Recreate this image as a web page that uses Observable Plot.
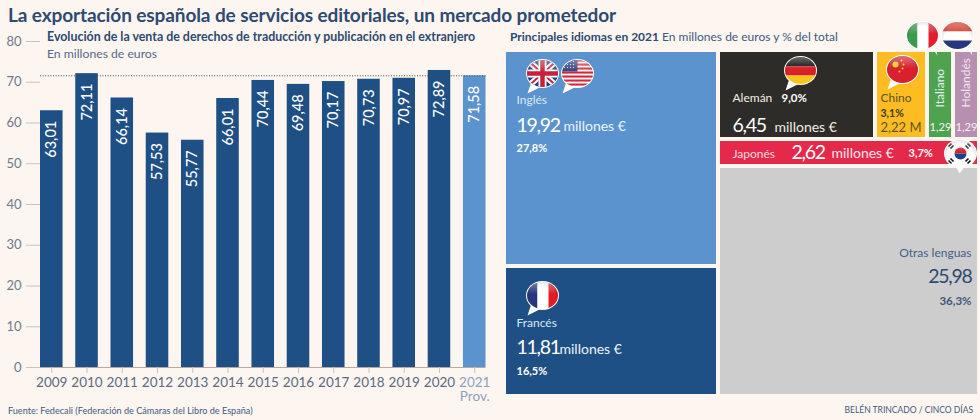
<!DOCTYPE html>
<html lang="es">
<head>
<meta charset="utf-8">
<script src="https://cdn.jsdelivr.net/npm/d3@7"></script>
<script src="https://cdn.jsdelivr.net/npm/@observablehq/plot@0.6"></script>
<style>
  html,body{margin:0;padding:0;background:#fdf5ef;}
  #page{position:relative;width:980px;height:420px;overflow:hidden;background:#fdf5ef;font-family:Lato,sans-serif;color:#2d4a73;}
  #page>div.p{position:absolute;top:0;}
  .t{position:absolute;white-space:nowrap;line-height:1;}
  .num{letter-spacing:-1.3px;}
</style>
</head>
<body>
<div id="page">
  <div id="barras" class="p" style="left:0"></div>
  <div id="mapa" class="p" style="left:500px"></div>
  <div class="t" style="left:8px;top:5px;font-size:19px;font-weight:700;letter-spacing:-0.1px;">La exportación española de servicios editoriales, un mercado prometedor</div>
  <div class="t" style="left:47px;top:31px;font-size:12.4px;font-weight:700;">Evolución de la venta de derechos de traducción y publicación en el extranjero</div>
  <div class="t" style="left:47px;top:48px;font-size:12.2px;color:#55698a;">En millones de euros</div>
  <div class="t" style="left:510px;top:31px;font-size:12px;color:#3f5a80;"><b style="color:#2d4a73">Principales idiomas en 2021</b> En millones de euros y % del total</div>
  <div class="t" style="left:8px;top:406px;font-size:9.1px;color:#3f5a80;">Fuente: Fedecali (Federación de Cámaras del Libro de España)</div>
  <div class="t" style="right:7px;top:406px;font-size:8.5px;color:#3f5a80;">BELÉN TRINCADO / CINCO DÍAS</div>
</div>
<script>
// ---- Datos ----
const anios = ["2009","2010","2011","2012","2013","2014","2015","2016","2017","2018","2019","2020","2021"];
const ventas = [63.01,72.11,66.14,57.53,55.77,66.01,70.44,69.48,70.17,70.73,70.97,72.89,71.58];
const ticksY = [0,10,20,30,40,50,60,70,80];
const idiomas = ["Inglés","Francés","Alemán","Chino","Italiano","Holandés","Japonés","Otras lenguas"];
const millones = [19.92,11.81,6.45,2.22,1.29,1.29,2.62,25.98];
const porcentajes = ["27,8%","16,5%","9,0%","3,1%","","","3,7%","36,3%"];

const coma = (v) => v.toFixed(2).replace(".", ",");
const pct = (n) => porcentajes[idiomas.indexOf(n)];
const mill = (n) => coma(millones[idiomas.indexOf(n)]);
const filas = anios.map((a, i) => ({anio: a, valor: ventas[i]}));
const TINTA = "#2d4a73", EJE = "#6f7a8c";

// ---- Barras ----
const barras = Plot.plot({
  width: 500, height: 420,
  marginLeft: 40, marginRight: 14.5, marginTop: 41, marginBottom: 53,
  style: {background: "transparent", fontFamily: "Lato, sans-serif"},
  x: {domain: anios, paddingInner: 0.36, paddingOuter: 0, round: false, label: null, axis: null},
  y: {domain: [0, 80], label: null, axis: null},
  marks: [
    Plot.axisY(ticksY, {anchor: "left", tickSize: 14, tickPadding: 5, fontSize: 13, label: null, stroke: "#c9c2bf", fill: EJE}),
    Plot.barY(filas.filter(d => d.anio !== "2021"), {x: "anio", y: "valor", fill: "#1f5085"}),
    Plot.barY(filas.filter(d => d.anio === "2021"), {x: "anio", y: "valor", fill: "#5b93cf"}),
    Plot.ruleY([0], {stroke: "#b8a9a5"}),
    Plot.ruleY([ventas[ventas.length - 1]], {stroke: "#3a4a5c", strokeDasharray: "1,1.6", strokeWidth: 1}),
    Plot.axisX(anios.slice(0, -1), {anchor: "bottom", tickSize: 6, tickPadding: 4, fontSize: 13.5, label: null, stroke: "#c9c2bf", fill: "#5c6a82"}),
    Plot.axisX(["2021"], {anchor: "bottom", tickSize: 6, tickPadding: 4, fontSize: 13.5, label: null, stroke: "#c9c2bf", fill: "#8f9fc0", tickFormat: () => "2021\nProv."}),
    Plot.text(filas, {x: "anio", y: "valor", text: d => coma(d.valor), rotate: -90, textAnchor: "end", dy: 10, fill: "white", fontSize: 14.5, fontWeight: 500})
  ]
});
document.getElementById("barras").appendChild(barras);

// ---- Mapa de árbol ----
const hoja = (n) => ({name: n, value: millones[idiomas.indexOf(n)]});
const raiz = d3.hierarchy({children: [
  {children: [hoja("Inglés"), hoja("Francés")]},
  {children: [
    {children: [hoja("Alemán"), hoja("Chino"), hoja("Italiano"), hoja("Holandés")]},
    hoja("Japonés"),
    hoja("Otras lenguas")
  ]}
]}).sum(d => d.value || 0);
d3.treemap().tile(d3.treemapSliceDice).size([1, 1]).round(false)(raiz);
const r6 = (v) => Math.round(v * 1e6) / 1e6;
const celdas = raiz.leaves().map(h => ({name: h.data.name, value: h.data.value, x0: r6(h.x0), x1: r6(h.x1), y0: r6(h.y0), y1: r6(h.y1)}));
const C = Object.fromEntries(celdas.map(c => [c.name, c]));
const cortes = (a, b) => d3.sort(new Set(celdas.flatMap(c => [c[a], c[b]])));

// El original ajusta a mano las proporciones de la retícula: transformación de escala por tramos
const tramoX = d3.scaleLinear(cortes("x0", "x1"), [4, 218, 375, 427, 453, 479]);
const tramoY = d3.scaleLinear(cortes("y0", "y1"), [50, 139, 166, 266, 396]);

const fillCelda = {"Inglés":"#5b93cf","Francés":"#1f5085","Alemán":"#2e2c29","Chino":"#fdbd22","Italiano":"#4fa34f","Holandés":"#b78fb0","Japonés":"#e5294a","Otras lenguas":"#cdcdcd"};

// Etiquetas: relativas a la esquina de su celda
function et(nombre, texto, dx, dy, size, fill, extra = {}) {
  const c = C[nombre];
  return Plot.text([c], {x: extra.fin ? "x1" : "x0", y: "y0", text: () => texto, dx, dy, fontSize: size, fill,
    textAnchor: extra.anchor || (extra.fin ? "end" : "start"), fontWeight: extra.w || 400, rotate: extra.rotate || 0,
    className: extra.num ? "num" : undefined});
}

// Banderas en bocadillo
function bocadillo(interior, cola) {
  const colas = {
    izq: "M9 26 L5 38 L19 31 Z",
    der: "M28 28 L35 38 L31 24 Z",
    abajo: "M15 30 L19 38 L25 30 Z"
  };
  const svg = `<svg xmlns="http://www.w3.org/2000/svg" width="40" height="40" viewBox="0 0 40 40">
  <defs><clipPath id="c"><ellipse cx="20" cy="18" rx="15.5" ry="13.5"/></clipPath>
  <radialGradient id="g" cx="50%" cy="55%" r="55%"><stop offset="60%" stop-color="#000" stop-opacity="0"/><stop offset="100%" stop-color="#000" stop-opacity=".3"/></radialGradient>
  <linearGradient id="h" x1="0" y1="0" x2="0" y2="1"><stop offset="0" stop-color="#fff" stop-opacity=".4"/><stop offset=".45" stop-color="#fff" stop-opacity="0"/></linearGradient></defs>
  <path d="${colas[cola]}" fill="#fff"/>
  <ellipse cx="20" cy="18" rx="16.5" ry="14.5" fill="#fff"/>
  <g clip-path="url(#c)">${interior}<rect width="40" height="40" fill="url(#g)"/><rect y="4" width="40" height="28" fill="url(#h)"/></g>
  </svg>`;
  return "data:image/svg+xml," + encodeURIComponent(svg);
}
const franjasV = (a, b, c) => `<rect x="4" y="0" width="11" height="40" fill="${a}"/><rect x="15" y="0" width="11" height="40" fill="${b}"/><rect x="26" y="0" width="11" height="40" fill="${c}"/>`;
const franjasH = (a, b, c) => `<rect x="0" y="4" width="40" height="10" fill="${a}"/><rect x="0" y="14" width="40" height="9" fill="${b}"/><rect x="0" y="23" width="40" height="10" fill="${c}"/>`;
const uk = `<rect width="40" height="40" fill="#2a3c80"/><path d="M2 2 L38 34 M38 2 L2 34" stroke="#fff" stroke-width="6"/><path d="M2 2 L38 34 M38 2 L2 34" stroke="#c8203a" stroke-width="2"/><path d="M20 0 V40 M0 18 H40" stroke="#fff" stroke-width="8"/><path d="M20 0 V40 M0 18 H40" stroke="#c8203a" stroke-width="4.5"/>`;
const us = `<rect width="40" height="40" fill="#fff"/>` + [4,8,12,16,20,24,28].map(y => `<rect y="${y}" width="40" height="2.1" fill="#d6273a"/>`).join("") + `<rect x="0" y="0" width="20" height="16" fill="#2f3f7f"/>` + [7,10,13,16].flatMap(x => [6,9,12].map(y => `<circle cx="${x}" cy="${y}" r=".6" fill="#fff"/>`)).join("");
const china = `<rect width="40" height="40" fill="#d8202f"/><circle cx="13" cy="13" r="3" fill="#f7d21e"/><circle cx="19" cy="9" r="1" fill="#f7d21e"/><circle cx="21" cy="13" r="1" fill="#f7d21e"/><circle cx="20" cy="17" r="1" fill="#f7d21e"/><circle cx="17" cy="20" r="1" fill="#f7d21e"/>`;
const corea = `<rect width="40" height="40" fill="#fff"/><path d="M14 18 a6 6 0 0 1 12 0 z" fill="#d8202f"/><path d="M14 18 a6 6 0 0 0 12 0 z" fill="#20408f"/><path d="M8 11 l3 -3 M10 13 l3 -3 M27 8 l3 3 M25 10 l3 3 M8 25 l3 3 M10 23 l3 3 M27 28 l3 -3 M25 26 l3 -3" stroke="#111" stroke-width="1.6"/>`;

const banderas = [
  {celda: "Inglés", dx: 38, dy: 25, src: bocadillo(uk, "izq")},
  {celda: "Inglés", dx: 73, dy: 25, src: bocadillo(us, "izq")},
  {celda: "Francés", dx: 38, dy: 31, src: bocadillo(franjasV("#27367f", "#fff", "#e31b23"), "izq")},
  {celda: "Alemán", dx: 82, dy: 22, src: bocadillo(franjasH("#111", "#dd1f26", "#f7c61b"), "izq")},
  {celda: "Chino", dx: 27, dy: 21, src: bocadillo(china, "izq")},
  {celda: "Italiano", dx: -5, dy: -13, src: bocadillo(franjasV("#3c9a4e", "#fff", "#e0202f"), "der")},
  {celda: "Holandés", dx: 4, dy: -13, src: bocadillo(franjasH("#d8402f", "#fff", "#27367f"), "der")},
  {celda: "Japonés", dx: 242, dy: 16, src: bocadillo(corea, "abajo")}
];

const CLARO = "#e8eef6";
const G = {num: true};
const marcasTexto = [
  et("Inglés", "Inglés", 12, 50, 12, "#dce7f4"),
  et("Inglés", mill("Inglés"), 12, 75, 19.5, "#fff", G),
  et("Inglés", "millones €", 59, 76, 14, "#eef3fa"),
  et("Inglés", pct("Inglés"), 12, 98, 11, "#fff", {w: 700}),
  et("Francés", "Francés", 12, 57, 12, "#dce7f4"),
  et("Francés", mill("Francés"), 12, 81, 19.5, "#fff", G),
  et("Francés", "millones €", 55, 83, 14, "#eef3fa"),
  et("Francés", pct("Francés"), 12, 105, 11, "#fff", {w: 700}),
  et("Alemán", "Alemán", 14, 48, 12, "#f2ece4"),
  et("Alemán", pct("Alemán"), 63, 48, 11.5, "#fff", {w: 700}),
  et("Alemán", mill("Alemán"), 14, 75, 19.5, "#fff", G),
  et("Alemán", "millones €", 56, 77, 14, "#f2ece4"),
  et("Chino", "Chino", 5, 48, 12, "#5f5426"),
  et("Chino", pct("Chino"), 5, 63, 10.5, "#40391c", {w: 700}),
  et("Chino", mill("Chino") + " M", 5, 77, 13, "#5f5426"),
  et("Italiano", "Italiano", 13, 57, 12, CLARO, {rotate: -90}),
  et("Italiano", mill("Italiano"), 13, 77, 11.2, "#f0f5ee", {anchor: "middle"}),
  et("Holandés", "Holandés", 13, 57, 12, "#f0e6ef", {rotate: -90}),
  et("Holandés", mill("Holandés"), 13, 77, 11.2, "#f7f0f6", {anchor: "middle"}),
  et("Japonés", "Japonés", 14, 15, 12, "#fbdce2"),
  et("Japonés", mill("Japonés"), 73, 13, 19.5, "#fff", G),
  et("Japonés", "millones €", 113, 14, 14, "#fde8ec"),
  et("Japonés", pct("Japonés"), 190, 14, 11, "#fff", {w: 700}),
  et("Otras lenguas", "Otras lenguas", -8, 87, 12, "#45608a", {fin: true}),
  et("Otras lenguas", mill("Otras lenguas"), -8, 110, 19.5, TINTA, {fin: true, num: true}),
  et("Otras lenguas", pct("Otras lenguas"), -8, 135, 11.5, "#3f5a80", {fin: true, w: 700})
];

const mapa = Plot.plot({
  width: 480, height: 420, margin: 0,
  style: {background: "transparent", fontFamily: "Lato, sans-serif", overflow: "visible"},
  x: {transform: tramoX, domain: [4, 479], range: [4, 479], axis: null},
  y: {transform: tramoY, domain: [50, 396], range: [50, 396], axis: null},
  marks: [
    ...idiomas.map(n => Plot.rect([C[n]], {x1: "x0", x2: "x1", y1: "y0", y2: "y1", fill: fillCelda[n], inset: 2})),
    ...marcasTexto,
    ...banderas.map(b => Plot.image([C[b.celda]], {x: "x0", y: "y0", src: () => b.src, width: 40, height: 40, dx: b.dx, dy: b.dy}))
  ]
});
document.getElementById("mapa").appendChild(mapa);
</script>
</body>
</html>
